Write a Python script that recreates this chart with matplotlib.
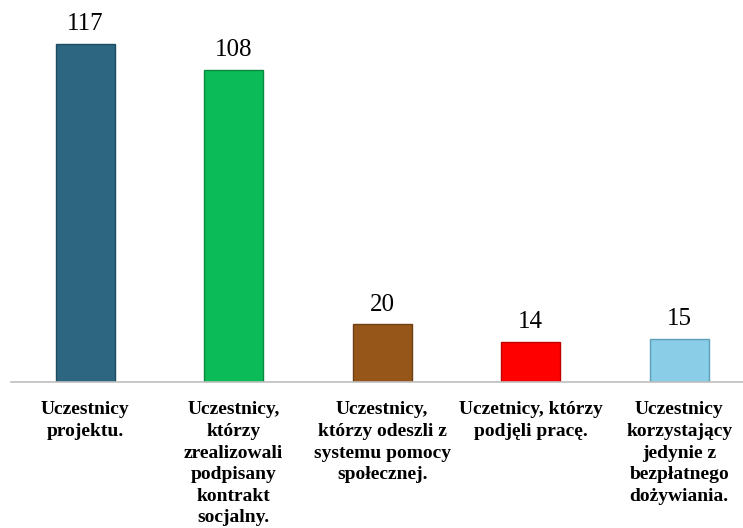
import matplotlib
matplotlib.use("Agg")
import matplotlib.pyplot as plt

categories = [
    "Uczestnicy\nprojektu.",
    "Uczestnicy,\nktórzy\nzrealizowali\npodpisany\nkontrakt\nsocjalny.",
    "Uczestnicy,\nktórzy odeszli z\nsystemu pomocy\nspołecznej.",
    "Uczetnicy, którzy\npodjęli pracę.",
    "Uczestnicy\nkorzystający\njedynie z\nbezpłatnego\ndożywiania.",
]
values = [117, 108, 20, 14, 15]
colors = ["#2C6680", "#0ABB58", "#96561A", "#FF0000", "#8ACDE6"]
edges = ["#1F4C60", "#07893F", "#6E3F12", "#C00000", "#5E9FB8"]

plt.rcParams['font.family'] = ['Liberation Serif', 'DejaVu Serif']

fig = plt.figure(figsize=(7.43, 5.28), dpi=100)
ax = fig.add_axes([11/743, 146/528, 732/743, 382/528])

x = list(range(len(values)))
bars = ax.bar(x, values, width=0.4, color=colors, edgecolor=edges, linewidth=1.0)

for b, v in zip(bars, values):
    ax.text(b.get_x() + b.get_width()/2, v + 3, str(v), ha='center', va='bottom',
            fontsize=18, color='black')

ax.set_xlim(-0.5, -0.5 + 732/148.5)
ax.set_ylim(0, 382/2.889)

for s in ['top', 'right', 'left']:
    ax.spines[s].set_visible(False)
ax.spines['bottom'].set_color('#BFBFBF')
ax.spines['bottom'].set_linewidth(1.2)
ax.set_yticks([])
ax.set_xticks(x)
ax.set_xticklabels(categories, fontsize=14, fontweight='bold', linespacing=1.35)
ax.tick_params(axis='x', length=0, pad=14)

fig.savefig("out.png", dpi=100)
